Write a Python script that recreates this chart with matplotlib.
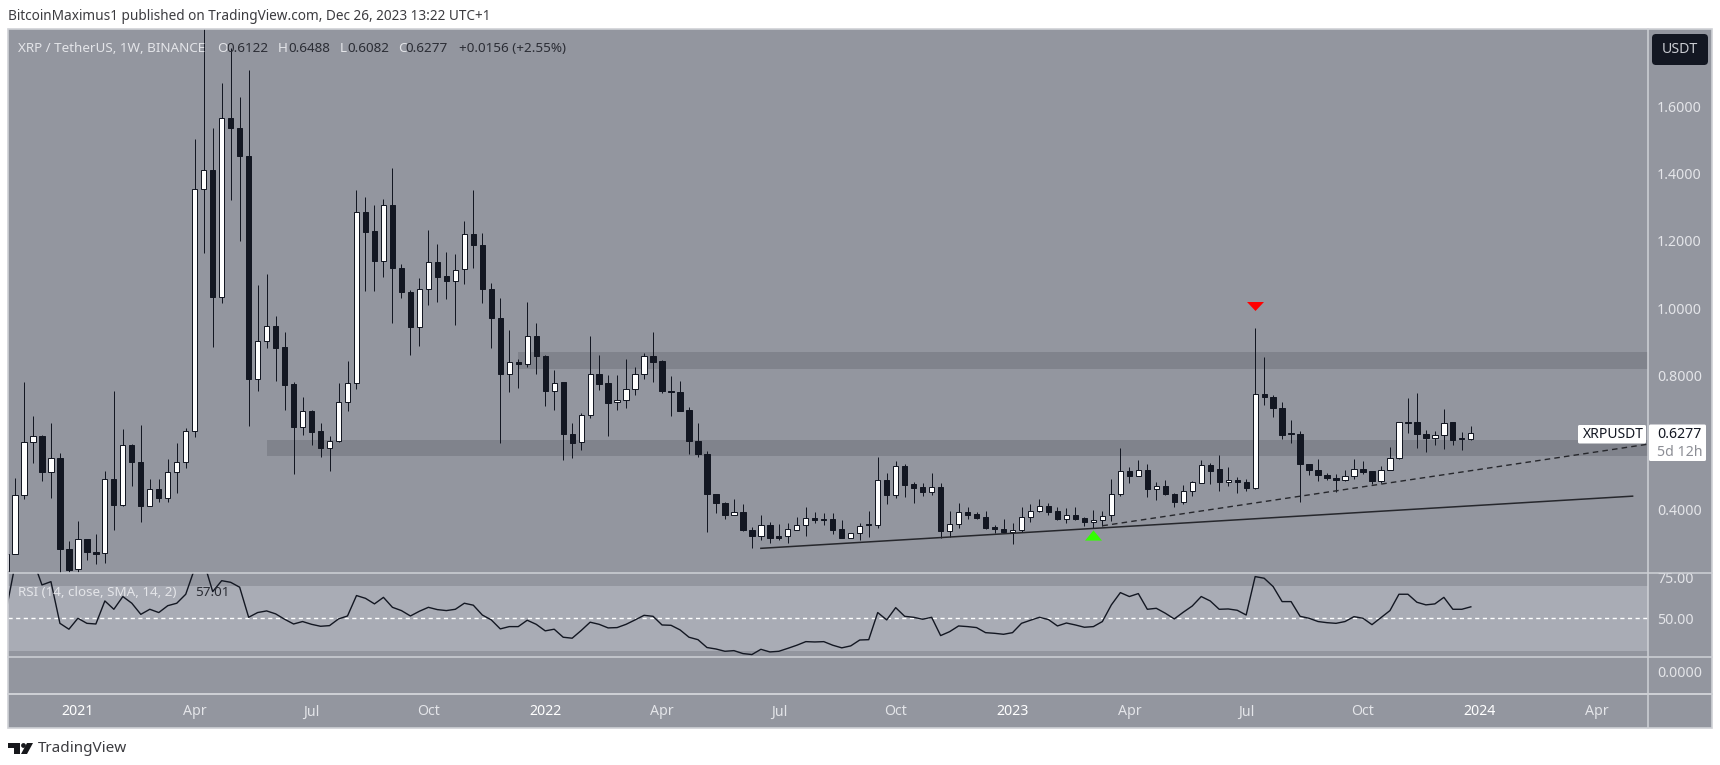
import matplotlib
matplotlib.use("Agg")
import matplotlib.pyplot as plt
import matplotlib.patches as patches
import pandas as pd

# weekly XRP / USDT candles
first_week = "2020-11-09"
opens = [0.22, 0.268, 0.444, 0.603, 0.620, 0.512, 0.554, 0.283, 0.224, 0.313, 0.276, 0.271, 0.492, 0.415, 0.592, 0.543, 0.413, 0.463, 0.437, 0.514, 0.543, 0.634, 1.3535, 1.41, 1.033, 1.564, 1.535, 1.4515, 0.790, 0.903, 0.9465, 0.884, 0.774, 0.647, 0.694, 0.6345, 0.585, 0.606, 0.7215, 0.778, 1.285, 1.229, 1.1396, 1.307, 1.119, 1.048, 0.9444, 1.056, 1.137, 1.095, 1.081, 1.116, 1.22, 1.187, 1.056, 0.97, 0.804, 0.8395, 0.8336, 0.9176, 0.858, 0.753, 0.78, 0.6256, 0.601, 0.682, 0.804, 0.777, 0.721, 0.727, 0.759, 0.804, 0.858, 0.8425, 0.754, 0.750, 0.697, 0.606, 0.566, 0.447, 0.421, 0.386, 0.393, 0.341, 0.323, 0.355, 0.322, 0.323, 0.341, 0.355, 0.375, 0.373, 0.373, 0.3425, 0.3175, 0.3306, 0.357, 0.355, 0.489, 0.445, 0.531, 0.476, 0.467, 0.454, 0.469, 0.338, 0.358, 0.393, 0.387, 0.379, 0.348, 0.344, 0.335, 0.341, 0.38, 0.398, 0.4126, 0.397, 0.372, 0.384, 0.375, 0.363, 0.369, 0.384, 0.446, 0.516, 0.502, 0.518, 0.463, 0.47, 0.447, 0.4236, 0.455, 0.481, 0.534, 0.521, 0.482, 0.49, 0.483, 0.466, 0.744, 0.7364, 0.702, 0.6277, 0.6256, 0.5365, 0.5195, 0.503, 0.495, 0.489, 0.501, 0.5225, 0.515, 0.486, 0.5195, 0.553, 0.662, 0.66, 0.6256, 0.6137, 0.622, 0.66, 0.613, 0.6122]
highs = [0.29, 0.496, 0.779, 0.680, 0.623, 0.657, 0.568, 0.308, 0.368, 0.315, 0.3285, 0.515, 0.754, 0.6395, 0.595, 0.651, 0.493, 0.491, 0.550, 0.598, 0.6425, 1.502, 1.96, 1.535, 1.668, 1.772, 1.627, 1.707, 1.068, 1.101, 0.976, 0.9295, 0.780, 0.7355, 0.697, 0.658, 0.6205, 0.777, 0.8425, 1.3505, 1.33, 1.306, 1.324, 1.416, 1.131, 1.053, 1.089, 1.232, 1.19, 1.166, 1.16, 1.259, 1.3505, 1.222, 1.074, 1.03, 0.935, 0.848, 1.018, 0.955, 0.860, 0.816, 0.781, 0.658, 0.689, 0.917, 0.86, 0.801, 0.801, 0.848, 0.8255, 0.866, 0.9295, 0.845, 0.799, 0.784, 0.706, 0.658, 0.576, 0.447, 0.4245, 0.433, 0.418, 0.349, 0.385, 0.365, 0.358, 0.361, 0.379, 0.409, 0.394, 0.391, 0.391, 0.37, 0.332, 0.361, 0.397, 0.558, 0.51, 0.546, 0.537, 0.484, 0.481, 0.51, 0.48, 0.397, 0.421, 0.41, 0.394, 0.397, 0.355, 0.373, 0.361, 0.409, 0.418, 0.4325, 0.4215, 0.409, 0.406, 0.409, 0.38, 0.4, 0.398, 0.493, 0.584, 0.527, 0.547, 0.537, 0.484, 0.488, 0.45, 0.474, 0.486, 0.548, 0.54, 0.564, 0.527, 0.497, 0.492, 0.94, 0.8535, 0.7415, 0.72, 0.666, 0.6345, 0.5365, 0.55, 0.5106, 0.506, 0.519, 0.55, 0.546, 0.5165, 0.5305, 0.586, 0.661, 0.7325, 0.748, 0.6375, 0.6354, 0.7, 0.662, 0.6306, 0.6488]
lows = [0.21, 0.268, 0.432, 0.541, 0.486, 0.437, 0.202, 0.2165, 0.2165, 0.251, 0.238, 0.243, 0.340, 0.412, 0.471, 0.363, 0.412, 0.423, 0.423, 0.451, 0.5255, 0.618, 1.163, 0.885, 1.015, 1.321, 1.199, 0.649, 0.754, 0.881, 0.783, 0.697, 0.507, 0.623, 0.593, 0.558, 0.516, 0.603, 0.694, 0.759, 1.050, 1.050, 1.093, 0.955, 1.03, 0.860, 0.888, 1.009, 1.018, 1.027, 0.949, 1.071, 1.119, 1.016, 0.882, 0.599, 0.7504, 0.762, 0.8255, 0.804, 0.7097, 0.697, 0.548, 0.554, 0.578, 0.673, 0.756, 0.6205, 0.697, 0.704, 0.7415, 0.789, 0.781, 0.747, 0.680, 0.694, 0.566, 0.557, 0.335, 0.392, 0.373, 0.384, 0.337, 0.286, 0.311, 0.303, 0.311, 0.302, 0.340, 0.3225, 0.362, 0.355, 0.3285, 0.3165, 0.316, 0.311, 0.3196, 0.346, 0.418, 0.436, 0.439, 0.4215, 0.441, 0.444, 0.317, 0.3196, 0.346, 0.373, 0.373, 0.343, 0.3315, 0.3315, 0.299, 0.335, 0.365, 0.395, 0.385, 0.37, 0.361, 0.37, 0.353, 0.346, 0.353, 0.367, 0.442, 0.479, 0.5, 0.439, 0.4295, 0.444, 0.409, 0.418, 0.441, 0.479, 0.477, 0.457, 0.472, 0.449, 0.457, 0.463, 0.712, 0.675, 0.61, 0.598, 0.423, 0.504, 0.485, 0.489, 0.454, 0.486, 0.491, 0.506, 0.476, 0.479, 0.5175, 0.551, 0.6295, 0.585, 0.573, 0.593, 0.582, 0.594, 0.578, 0.6082]
closes = [0.268, 0.444, 0.603, 0.620, 0.512, 0.554, 0.283, 0.2215, 0.313, 0.276, 0.270, 0.492, 0.415, 0.592, 0.542, 0.412, 0.463, 0.437, 0.514, 0.543, 0.634, 1.3535, 1.41, 1.0326, 1.564, 1.535, 1.4515, 0.789, 0.903, 0.9465, 0.881, 0.772, 0.647, 0.694, 0.632, 0.585, 0.606, 0.7215, 0.778, 1.285, 1.227, 1.1396, 1.307, 1.119, 1.048, 0.9435, 1.056, 1.137, 1.093, 1.081, 1.113, 1.22, 1.187, 1.056, 0.97, 0.804, 0.8395, 0.8336, 0.9176, 0.858, 0.753, 0.777, 0.6256, 0.6, 0.682, 0.804, 0.775, 0.7186, 0.727, 0.759, 0.804, 0.858, 0.840, 0.753, 0.751, 0.695, 0.605, 0.566, 0.447, 0.421, 0.386, 0.393, 0.340, 0.323, 0.355, 0.3175, 0.3175, 0.3425, 0.355, 0.376, 0.370, 0.369, 0.340, 0.3175, 0.3306, 0.353, 0.354, 0.489, 0.445, 0.531, 0.474, 0.466, 0.453, 0.469, 0.338, 0.358, 0.393, 0.386, 0.377, 0.346, 0.343, 0.334, 0.341, 0.38, 0.398, 0.4126, 0.394, 0.372, 0.384, 0.374, 0.363, 0.37, 0.383, 0.446, 0.515, 0.502, 0.5195, 0.463, 0.47, 0.446, 0.4236, 0.455, 0.482, 0.534, 0.5165, 0.483, 0.49, 0.483, 0.466, 0.744, 0.7355, 0.702, 0.622, 0.625, 0.5365, 0.5195, 0.503, 0.494, 0.489, 0.5, 0.5225, 0.513, 0.486, 0.5195, 0.553, 0.66, 0.659, 0.6256, 0.6137, 0.622, 0.659, 0.608, 0.611, 0.6277]
rsi = [54.3, 82.6, 86.7, 85.7, 70.4, 72.4, 46.9, 43.3, 50, 46.9, 46.5, 60.6, 55.5, 63.3, 59.2, 52.4, 55.5, 53.5, 57.7, 59.2, 64.7, 80.6, 84.7, 66.3, 73, 72, 69, 50.6, 53.5, 54.5, 52.7, 49.4, 46.5, 48, 46.3, 45.1, 45.5, 49.6, 51.4, 63.9, 62.2, 58.8, 62.8, 56.7, 54.7, 51.4, 54.3, 56.7, 55.3, 54.7, 55.5, 59.2, 58, 52, 49, 43.5, 44.9, 44.9, 48.8, 46.3, 42.3, 43.3, 38.4, 37.8, 42.5, 47.6, 46.3, 44.1, 44.3, 46.3, 49, 51.8, 51.2, 45.9, 45.7, 42.9, 38.4, 36.9, 32.1, 31.2, 29.8, 30.2, 28.4, 27.8, 31, 29.4, 29.8, 31.6, 33.5, 35.7, 35.5, 35.7, 33.5, 31.9, 33.1, 36.7, 36.9, 53.5, 49, 56.5, 51.2, 50.6, 49.4, 50.6, 39.4, 41.8, 45.3, 44.9, 44.3, 41.2, 40.8, 40.2, 41.2, 46.9, 48.8, 50.6, 49.2, 45.3, 47.1, 45.9, 44.5, 44.9, 48, 58.2, 65.7, 63.3, 65.1, 55.5, 56.1, 53.1, 49.6, 53.7, 57.5, 63.3, 60.6, 55.5, 55.7, 54.9, 52, 75.5, 74.5, 69.4, 60.2, 60.2, 51.2, 50, 48, 47.3, 46.9, 48, 51, 50, 46.1, 50.4, 54.7, 64.7, 64.7, 59.8, 58.2, 58.8, 62.8, 55.5, 55.5, 57.01]

price_ticks = [1.6, 1.4, 1.2, 1.0, 0.8, 0.4]
time_ticks = ["2021-01-04", "2021-04-05", "2021-07-05", "2021-10-04", "2022-01-03", "2022-04-04", "2022-07-04", "2022-10-03", "2023-01-02", "2023-04-03", "2023-07-03", "2023-10-02", "2024-01-01", "2024-04-01"]
time_labels = ["2021", "Apr", "Jul", "Oct", "2022", "Apr", "Jul", "Oct", "2023", "Apr", "Jul", "Oct", "2024", "Apr"]

# drawings on the chart
zone_low = (0.561, 0.608, "2021-05-31")
zone_high = (0.818, 0.868, "2021-12-13")
solid_line = (["2022-06-20", "2024-04-29"], [0.286, 0.441])
dashed_line = (["2023-03-13", "2024-05-12"], [0.353, 0.596])
red_arrow = ("2023-07-10", 1.005)
green_arrow = ("2023-03-06", 0.325)

BG = "#93969f"
ZONE = "#80838c"
BAND = "#a9acb5"
RULE = "#cfd1d6"
DARK = "#131722"
LIGHT = "#e4e5e9"

W, H = 1720, 765
plt.rcParams["font.family"] = ["Noto Sans", "DejaVu Sans"]

fig = plt.figure(figsize=(W / 100, H / 100), dpi=100, facecolor="white")

# grey chart block, under all the panes
back = fig.add_axes([8 / W, 1 - 728 / H, 1704 / W, 699 / H])
back.set_facecolor(BG)
back.set_xticks([])
back.set_yticks([])
for s in back.spines.values():
    s.set_visible(False)


def pane(left, top, right, bottom):
    ax = fig.add_axes([left / W, 1 - bottom / H, (right - left) / W, (bottom - top) / H])
    ax.set_facecolor(BG)
    for s in ax.spines.values():
        s.set_visible(False)
    ax.set_xticks([])
    ax.set_yticks([])
    return ax


def right_ticks(ax, ticks, labels, pad=6.5):
    ax.yaxis.tick_right()
    ax.set_yticks(ticks, labels)
    ax.tick_params(axis="y", length=0, pad=pad, labelsize=10.2, labelcolor=LIGHT)


dates = pd.date_range(first_week, periods=len(opens), freq="7D")
x_left = pd.Timestamp("2020-11-16") - pd.Timedelta(days=5.45)
x_right = pd.Timestamp("2020-11-16") + pd.Timedelta(days=1272)

# price pane
ax = pane(8, 29, 1648, 573)
ax.set_ylim(0.2127, 1.829)
for low, high, start in (zone_low, zone_high):
    ax.fill_between([pd.Timestamp(start), x_right], low, high, color=ZONE, lw=0, zorder=1)

ax.vlines(dates, lows, highs, color=DARK, lw=0.72, zorder=2)
bottoms = [min(o, c) for o, c in zip(opens, closes)]
heights = [abs(o - c) for o, c in zip(opens, closes)]
colors = ["white" if c >= o else DARK for o, c in zip(opens, closes)]
ax.bar(dates, heights, bottom=bottoms, width=4.1, color=colors, edgecolor=DARK, lw=0.72, zorder=3)

ax.plot(pd.to_datetime(solid_line[0]), solid_line[1], color="#26272c", lw=1.1, zorder=4)
ax.plot(pd.to_datetime(dashed_line[0]), dashed_line[1], color="#26272c", lw=1.0, ls=(0, (4, 3)), zorder=4)
ax.plot([pd.Timestamp(red_arrow[0])], [red_arrow[1]], ls="", ms=12.2, color="#ff0000", mew=0,
        marker=[(-1, 0.53), (1, 0.53), (0, -0.53)], zorder=5)
ax.plot([pd.Timestamp(green_arrow[0])], [green_arrow[1]], ls="", ms=12.2, color="#33ff00", mew=0,
        marker=[(-1, -0.6), (1, -0.6), (0, 0.6)], zorder=5)
ax.set_xlim(x_left, x_right)
right_ticks(ax, price_ticks, [f"{p:.4f}" for p in price_ticks])

# rsi pane
ax_rsi = pane(8, 573, 1648, 657)
ax_rsi.set_ylim(26.3, 77.7)
ax_rsi.axhspan(30, 70, color=BAND, lw=0, zorder=1)
ax_rsi.axhline(50, color="white", lw=1.0, ls=(0, (3, 2.5)), zorder=2)
ax_rsi.plot(dates, rsi, color=DARK, lw=1.0, zorder=3)
ax_rsi.set_xlim(x_left, x_right)
right_ticks(ax_rsi, [50, 75], ["50.00", "75.00"])

# empty pane and time scale
ax_low = pane(8, 657, 1648, 694)
ax_low.set_ylim(-0.62, 0.38)
ax_low.set_xlim(x_left, x_right)
right_ticks(ax_low, [0], ["0.0000"])
ax_low.set_xticks(pd.to_datetime(time_ticks), time_labels)
ax_low.tick_params(axis="x", length=0, pad=7.5, labelsize=10.2, labelcolor=LIGHT)
for lab in ax_low.get_xticklabels():
    if lab.get_text().startswith("20"):
        lab.set_fontweight("bold")
        lab.set_color("white")

# everything else is page furniture, drawn in pixels on top
top = fig.add_axes([0, 0, 1, 1], facecolor="none")
top.set_xlim(0, W)
top.set_ylim(H, 0)
top.axis("off")
top.add_patch(patches.Rectangle((8, 29), 1704, 699, fc="none", ec=RULE, lw=1.2, zorder=0))
top.add_patch(patches.Rectangle((1649, 560), 62, 13, fc=BG, ec="none"))
for y, lw in ((573, 1.1), (657, 1.1), (694, 1.4)):
    top.plot([8, 1712], [y, y], color=RULE, lw=lw)
top.plot([1648, 1648], [29, 728], color=RULE, lw=1.1)


def label(x, y, s, color=LIGHT, size=9.7, **kw):
    top.text(x, y, s, color=color, fontsize=size, va="center", **kw)


label(8, 16, "BitcoinMaximus1 published on TradingView.com, Dec 26, 2023 13:22 UTC+1", color="#3c3c40", size=9.8)
label(18, 48, "XRP / TetherUS, 1W, BINANCE", zorder=9)
for x, s in ((217, "O"), (278, "H"), (340, "L"), (398, "C")):
    label(x, 48, s, zorder=9)
for x, s in ((226, "0.6122"), (288, "0.6488"), (347, "0.6082"), (405, "0.6277"), (459, "+0.0156 (+2.55%)")):
    label(x, 48, s, color="#2b2d35", zorder=9)
label(18, 593, "RSI (14, close, SMA, 14, 2)", zorder=9)
label(195, 593, "57.01", color="#2b2d35", zorder=9)

# last price tags
top.add_patch(patches.FancyBboxPatch((1578, 425), 68, 18.5, boxstyle="round,pad=0,rounding_size=1.5", fc="white", ec="none"))
top.add_patch(patches.FancyBboxPatch((1649, 424.5), 57, 36.5, boxstyle="round,pad=0,rounding_size=1.5", fc="white", ec="none"))
label(1583, 434, "XRPUSDT", color=DARK, size=10.0)
label(1657, 434, "0.6277", color=DARK, size=10.2)
label(1657, 452, "5d 12h", color="#8c8e95", size=10.2)

# currency button
top.add_patch(patches.FancyBboxPatch((1652, 34), 56, 31, boxstyle="round,pad=0,rounding_size=4", fc=DARK, ec="none"))
top.text(1680, 49.5, "USDT", color="#c9cbd1", fontsize=10.2, ha="center", va="center")

# footer logo
top.add_patch(patches.Polygon([(8, 743), (20, 743), (20, 754), (14, 754), (14, 748), (8, 748)], fc="#17181c", ec="none"))
top.add_patch(patches.Circle((23.5, 745.5), 2.4, fc="#17181c", ec="none"))
top.add_patch(patches.Polygon([(27, 743), (33, 743), (27, 754), (21, 754)], fc="#17181c", ec="none"))
label(38, 749, "TradingView", color="#3c3c40", size=11.0)

fig.savefig("out.png", dpi=100, facecolor="white")
